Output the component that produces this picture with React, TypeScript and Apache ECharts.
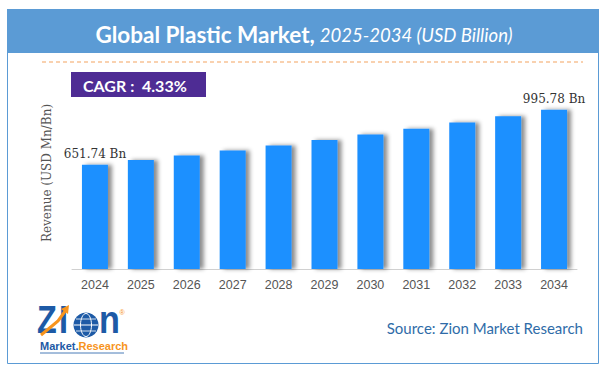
import React, { useEffect, useRef } from "react";
import * as echarts from "echarts";

const years = ["2024", "2025", "2026", "2027", "2028", "2029", "2030", "2031", "2032", "2033", "2034"];
const revenue = [651.74, 681.0, 709.0, 740.0, 772.0, 806.0, 840.0, 877.0, 915.0, 955.0, 995.78];
const labelledIndexes = [0, 10];
const titleMain = "Global Plastic Market,";
const titleSub = "2025-2034 (USD Billion)";
const cagrText = "CAGR :  4.33%";
const sourceText = "Source: Zion Market Research";
const yAxisName = "Revenue (USD Mn/Bn)";

export default function App() {
  const ref = useRef<HTMLDivElement>(null);
  useEffect(() => {
    document.body.style.margin = "0";
    const chart = echarts.init(ref.current!, undefined, { renderer: "svg" });
    const sans = "Lato, 'Noto Sans', sans-serif";
    const logoFont = "bold 38px 'Liberation Sans', Arial, sans-serif";
    chart.setOption({
      animation: false,
      backgroundColor: "#ffffff",
      title: {
        text: `{a|${titleMain}} {b|${titleSub}}`,
        left: "center",
        top: 18,
        textStyle: {
          rich: {
            a: { fontFamily: sans, fontWeight: "bold", fontSize: 22.5, color: "#ffffff" },
            b: { fontFamily: sans, fontStyle: "italic", fontWeight: "normal", fontSize: 18.5, color: "#ffffff" },
          },
        },
        z: 10,
      },
      grid: { left: 72, right: 31, top: 77, bottom: 102, containLabel: false },
      xAxis: {
        type: "category",
        data: years,
        axisLine: { show: true, lineStyle: { color: "#d0d0d0", width: 1 } },
        axisTick: { show: false },
        axisLabel: { color: "#555555", fontSize: 12.5, fontFamily: "'Liberation Sans', Arial, sans-serif", margin: 9 },
      },
      yAxis: {
        type: "value",
        min: 0,
        max: 1200,
        show: true,
        name: yAxisName,
        nameLocation: "middle",
        nameGap: 19,
        nameTextStyle: { color: "#555555", fontSize: 12, fontFamily: "'DejaVu Serif', serif" },
        axisLine: { show: false },
        axisTick: { show: false },
        axisLabel: { show: false },
        splitLine: { show: false },
      },
      series: [
        {
          type: "bar",
          barWidth: 26,
          data: revenue.map((v, i) => ({
            value: v,
            label: {
              show: labelledIndexes.includes(i),
              position: "top",
              distance: 5,
              formatter: (p: any) => `${p.value.toFixed(2)} Bn`,
              color: "#333333",
              fontSize: 12,
              fontFamily: "'DejaVu Serif', serif",
            },
          })),
          itemStyle: {
            color: "#1E90FF",
            shadowColor: "rgba(0,0,0,0.45)",
            shadowBlur: 4,
            shadowOffsetX: 4,
            shadowOffsetY: 0,
          },
        },
      ],
      graphic: [
        { type: "rect", shape: { x: 7.5, y: 9.5, width: 591, height: 354 }, style: { fill: "none", stroke: "#5B9BD5", lineWidth: 1 }, z: 0 },
        { type: "rect", shape: { x: 7, y: 9, width: 592, height: 44 }, style: { fill: "#5B9BD5" }, z: 1 },
        { type: "line", shape: { x1: 42, y1: 62, x2: 583, y2: 62 }, style: { stroke: "#F4A460", lineWidth: 1.2, lineDash: [4, 3] } },
        { type: "rect", shape: { x: 71, y: 72, width: 135, height: 25 }, style: { fill: "#4E2C94" } },
        {
          type: "text",
          x: 83,
          y: 85,
          style: { text: cagrText, fill: "#ffffff", font: `bold 16px ${sans}`, align: "left", verticalAlign: "middle" },
        },
        {
          type: "text",
          x: 583,
          y: 328,
          style: { text: sourceText, fill: "#2F6CA8", font: `15px ${sans}`, align: "right", verticalAlign: "middle" },
        },
        // logo
        {
          type: "text",
          x: 37,
          y: 339,
          scaleX: 0.85,
          style: { text: "Z", fill: "#1D5AA6", font: logoFont, verticalAlign: "bottom" },
        },
        {
          type: "text",
          x: 59,
          y: 339,
          scaleX: 0.85,
          style: { text: "I", fill: "#1D5AA6", font: logoFont, verticalAlign: "bottom" },
        },
        { type: "polyline", shape: { points: [[41, 335], [52, 326], [58, 321], [66, 310]] }, style: { stroke: "#F7941D", lineWidth: 3, fill: "none" } },
        { type: "polygon", shape: { points: [[61, 309], [69, 305], [68, 314]] }, style: { fill: "#F7941D" } },
        { type: "circle", shape: { cx: 86, cy: 325, r: 12.5 }, style: { fill: "#1D5AA6" } },
        { type: "ellipse", shape: { cx: 86, cy: 325, rx: 5.5, ry: 11.5 }, style: { fill: "none", stroke: "#ffffff", lineWidth: 1 } },
        { type: "line", shape: { x1: 74, y1: 325, x2: 98, y2: 325 }, style: { stroke: "#ffffff", lineWidth: 1 } },
        { type: "line", shape: { x1: 76, y1: 319, x2: 96, y2: 319 }, style: { stroke: "#ffffff", lineWidth: 0.8 } },
        { type: "line", shape: { x1: 76, y1: 331, x2: 96, y2: 331 }, style: { stroke: "#ffffff", lineWidth: 0.8 } },
        {
          type: "text",
          x: 99,
          y: 339,
          scaleX: 0.9,
          style: { text: "n", fill: "#1D5AA6", font: logoFont, verticalAlign: "bottom" },
        },
        {
          type: "text",
          x: 122,
          y: 312,
          style: { text: "®", fill: "#F7941D", font: "7px sans-serif", align: "center", verticalAlign: "middle" },
        },
        {
          type: "text",
          x: 40,
          y: 346,
          style: {
            text: "{m|Market.}{r|Research}",
            verticalAlign: "middle",
            rich: {
              m: { fill: "#1D5AA6", font: "bold 11px 'Liberation Sans', Arial, sans-serif" },
              r: { fill: "#F7941D", font: "bold 11px 'Liberation Sans', Arial, sans-serif" },
            },
          },
        },
        { type: "line", shape: { x1: 40, y1: 353, x2: 124, y2: 353 }, style: { stroke: "#1D5AA6", lineWidth: 0.8 } },
      ],
    });
    return () => chart.dispose();
  }, []);
  return <div ref={ref} style={{ width: 608, height: 371 }} />;
}
